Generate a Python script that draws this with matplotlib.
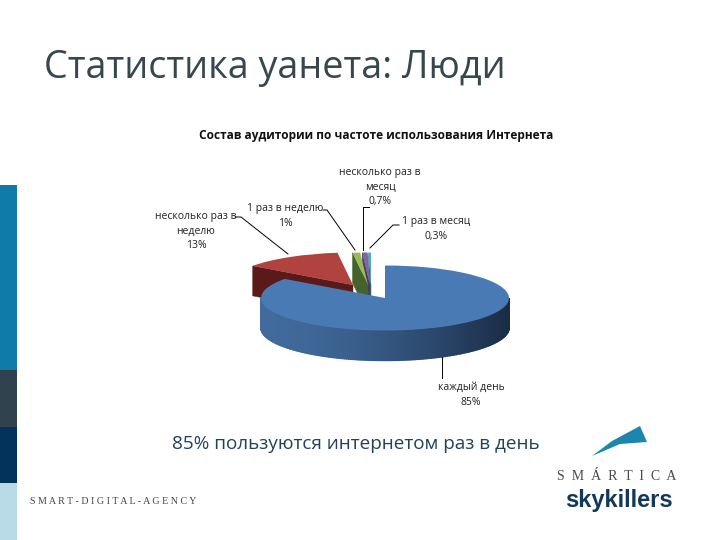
import numpy as np
import matplotlib
matplotlib.use("Agg")
import matplotlib.pyplot as plt
from matplotlib.patches import Rectangle, Polygon
from matplotlib.colors import to_rgb

slide_title = "Статистика уанета: Люди"
chart_title = "Состав аудитории по частоте использования Интернета"
caption = "85% пользуются интернетом раз в день"
footer = "SMART-DIGITAL-AGENCY"
categories = ["каждый день", "несколько раз в\nнеделю", "1 раз в неделю", "несколько раз в\nмесяц", "1 раз в месяц"]
percent_labels = ["85%", "13%", "1%", "0,7%", "0,3%"]
values = [85, 13, 1, 0.7, 0.3]

top_colors = ["#4a7ab3", "#b0433f", "#9bbb59", "#8064a2", "#4bacc6"]
cut_colors = ["#1f3550", "#5a1a19", "#46622c", "#4a3a60", "#2c6a7c"]
centers_px = [(385, 298), (353, 285), (368, 285), (370, 285), (371, 285)]
RX, RY, DEPTH = 124.0, 32.5, 30.0
FONT = ["Open Sans", "DejaVu Sans"]
plt.rcParams["font.family"] = FONT

fig = plt.figure(figsize=(7.2, 5.4), dpi=100, facecolor="white")

# ---- pie axes: 1 data unit = RX px horizontally, RY px vertically
ax = fig.add_axes([0, 0, 1, 1], facecolor="none")
wedges, _ = ax.pie(values, startangle=90, counterclock=False, colors=top_colors,
                   wedgeprops=dict(linewidth=0))
ax.set_aspect("auto")
ax.set_xlim(0, 720 / RX)
ax.set_ylim(0, 540 / RY)
ax.axis("off")
dz = DEPTH / RY


def mix(c, other, t):
    a, b = np.array(to_rgb(c)), np.array(to_rgb(other))
    return tuple(a + (b - a) * t)


order = [4, 3, 2, 1, 0]
z = 2
for i in order:
    w = wedges[i]
    cx, cy = centers_px[i][0] / RX, (540 - centers_px[i][1]) / RY
    w.set_center((cx, cy))
    a2 = np.deg2rad(w.theta2)
    # visible radial cut face
    if 90 < (w.theta2 % 360) < 270:
        ox, oy = cx + np.cos(a2), cy + np.sin(a2)
        ax.add_patch(Polygon([(cx, cy), (ox, oy), (ox, oy - dz), (cx, cy - dz)],
                             closed=True, fc=cut_colors[i], ec=cut_colors[i], lw=0.3, zorder=z))
    # outer wall in thin strips
    angles = np.arange(w.theta1, w.theta2 + 1.0, 1.0)
    for t0, t1 in zip(angles[:-1], angles[1:]):
        if np.sin(np.deg2rad((t0 + t1) / 2)) >= 0:
            continue
        a, b = np.deg2rad(t0), np.deg2rad(t1)
        xm = np.cos((a + b) / 2)
        shade = np.clip((xm + 1) / 2, 0, 1) ** 1.6
        col = mix(mix(top_colors[i], "#000000", 0.12), "#1a2c46" if i == 0 else cut_colors[i], shade)
        ax.add_patch(Polygon([(cx + np.cos(a), cy + np.sin(a)), (cx + np.cos(b), cy + np.sin(b)),
                              (cx + np.cos(b), cy + np.sin(b) - dz), (cx + np.cos(a), cy + np.sin(a) - dz)],
                             closed=True, fc=col, ec=col, lw=1.0, zorder=z + 1))
    w.set_zorder(z + 2)
    z += 3

# ---- overlay axes in image pixels
ov = fig.add_axes([0, 0, 1, 1], facecolor="none")
ov.set_xlim(0, 720)
ov.set_ylim(540, 0)
ov.axis("off")

# left strip
for y0, y1, c in [(185, 370, "#0e7ca6"), (370, 427, "#2f424e"), (427, 483, "#03325a"), (483, 540, "#b9dbe8")]:
    ov.add_patch(Rectangle((0, y0), 17, y1 - y0, fc=c, ec="none"))

ov.text(44, 68, slide_title, fontsize=27.2, color="#37474f", va="center", ha="left")
ov.text(376, 135, chart_title, fontsize=8.6, fontweight="bold", color="#111111", va="center", ha="center")
ov.text(356, 444, caption, fontsize=13.6, color="#23405a", va="center", ha="center")

# leader lines
leaders = [([442, 442], [357, 378]),
           ([235, 241, 288], [217, 217, 254]),
           ([323, 327, 355], [210, 210, 250]),
           ([369, 363, 363], [207, 207, 250]),
           ([399, 393, 370], [225, 225, 248])]
for xs, ys in leaders:
    ov.plot(xs, ys, color="black", lw=0.7, zorder=5)

lab = dict(fontsize=7.5, color="#222222", ha="center", va="center", linespacing=1.4)
ov.text(196, 231, categories[1] + "\n" + percent_labels[1], **lab)
ov.text(285, 216, categories[2] + "\n" + percent_labels[2], **lab)
ov.text(380, 187, categories[3] + "\n" + percent_labels[3], **lab)
ov.text(436, 229, categories[4] + "\n" + percent_labels[4], **lab)
ov.text(471, 395, categories[0] + "\n" + percent_labels[0], **lab)

# logo and footer
ov.add_patch(Polygon([(592, 456), (612, 441), (640, 426), (647, 442), (620, 444)], closed=True, fc="#1c86ad", ec="none"))
ov.text(617, 476, "S  M  Á  R  T  I  C  A", fontsize=10, color="#4a4a4a", family="Liberation Serif", ha="center", va="center")
ov.text(619, 500, "skykillers", fontsize=17, fontweight="bold", color="#12385a", ha="center", va="center", family="Liberation Sans")
ov.text(30, 502, " ".join(footer), fontsize=7.2, color="#444444", family="Liberation Serif", ha="left", va="center")

fig.savefig("out.png", dpi=100)
